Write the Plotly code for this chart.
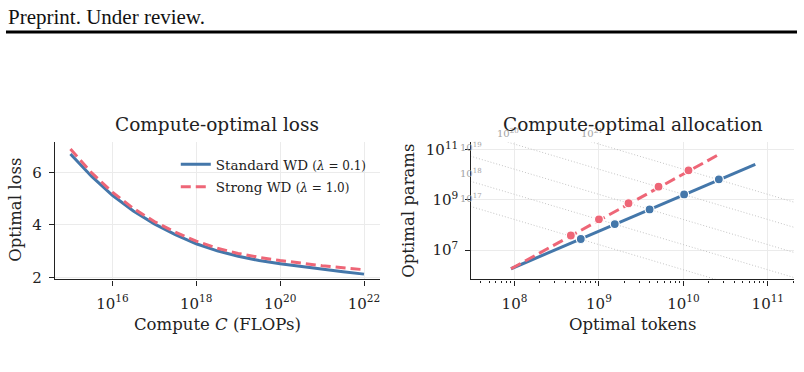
import plotly.graph_objects as go
import math

# ---------------- data ----------------
# Left panel: compute-optimal loss vs compute (log10 C)
compute_log = [15.0, 15.5, 16.0, 16.5, 17.0, 17.5, 18.0, 18.5, 19.0, 19.5, 20.0, 20.5, 21.0, 21.5, 22.0]
loss_standard = [6.71, 5.86, 5.13, 4.53, 4.04, 3.63, 3.28, 3.01, 2.80, 2.64, 2.52, 2.41, 2.31, 2.21, 2.12]
loss_strong = [6.90, 6.00, 5.25, 4.63, 4.13, 3.72, 3.38, 3.11, 2.91, 2.76, 2.64, 2.53, 2.44, 2.36, 2.29]

# Right panel: compute-optimal allocation
line_std_tokens = [9.1e7, 7.1e10]
line_std_params = [1.83e6, 2.63e10]
line_strong_tokens = [9.1e7, 2.57e10]
line_strong_params = [1.83e6, 6.17e10]

pts_std_tokens = [6.1e8, 1.54e9, 3.98e9, 1.02e10, 2.63e10]
pts_std_params = [2.8e7, 1.1e8, 4.2e8, 1.66e9, 6.6e9]
pts_strong_tokens = [4.65e8, 1.0e9, 2.24e9, 5.08e9, 1.15e10]
pts_strong_params = [3.85e7, 1.7e8, 7.4e8, 3.39e9, 1.51e10]

iso_compute = [1e17, 1e18, 1e19, 1e20, 1e21]
iso_labels = ["10<sup>17</sup>", "10<sup>18</sup>", "10<sup>19</sup>", "10<sup>20</sup>", "10<sup>21</sup>"]
iso_token_span = [3.0e7, 2.1e11]

left_xticks = [1e16, 1e18, 1e20, 1e22]
left_xticktext = ["10<sup>16</sup>", "10<sup>18</sup>", "10<sup>20</sup>", "10<sup>22</sup>"]
left_yticks = [2, 4, 6]
right_xticks = [1e8, 1e9, 1e10, 1e11]
right_xticktext = ["10<sup>8</sup>", "10<sup>9</sup>", "10<sup>10</sup>", "10<sup>11</sup>"]
right_yticks = [1e7, 1e9, 1e11]
right_yticktext = ["10<sup>7</sup>", "10<sup>9</sup>", "10<sup>11</sup>"]

# ---------------- style ----------------
BLUE = "#4477AA"
RED = "#EE6677"
FONT = "DejaVu Serif"
W, H = 804, 372
GRID = "#ebebeb"

compute = [10 ** v for v in compute_log]

fig = go.Figure()

# left panel
fig.add_trace(go.Scatter(x=compute, y=loss_standard, mode="lines",
                         line=dict(color=BLUE, width=3),
                         name="Standard WD <span style='font-size:12px'>(<i>λ</i> = 0.1)</span>",
                         legendgroup="a", xaxis="x", yaxis="y"))
fig.add_trace(go.Scatter(x=compute, y=loss_strong, mode="lines",
                         line=dict(color=RED, width=3, dash="10px,5px"),
                         name="Strong WD <span style='font-size:12px'>(<i>λ</i> = 1.0)</span>",
                         legendgroup="b", xaxis="x", yaxis="y"))

# right panel: isoflop lines
xr = [7.49, 11.31]
yr = [5.84, 11.3]
for c, lab in zip(iso_compute, iso_labels):
    ds = iso_token_span
    ns = [c / (6 * d) for d in ds]
    fig.add_trace(go.Scatter(x=ds, y=ns, mode="lines",
                             line=dict(color="#c4c4c4", width=1, dash="1px,2px"),
                             showlegend=False, hoverinfo="skip", xaxis="x2", yaxis="y2"))
    ld = max(xr[0], math.log10(c / 6) - yr[1])
    ln = math.log10(c / 6) - ld
    fig.add_annotation(x=ld, y=ln, xref="x2", yref="y2", text=lab, showarrow=False,
                       xanchor="center", yanchor="bottom", yshift=1,
                       font=dict(family=FONT, size=10, color="#a4a4a4"))

fig.add_trace(go.Scatter(x=line_std_tokens, y=line_std_params, mode="lines",
                         line=dict(color=BLUE, width=3), showlegend=False,
                         xaxis="x2", yaxis="y2"))
fig.add_trace(go.Scatter(x=line_strong_tokens, y=line_strong_params, mode="lines",
                         line=dict(color=RED, width=3, dash="11px,5px"), showlegend=False,
                         xaxis="x2", yaxis="y2"))
fig.add_trace(go.Scatter(x=pts_std_tokens, y=pts_std_params, mode="markers",
                         marker=dict(color=BLUE, size=9, line=dict(color="white", width=1.2)),
                         showlegend=False, xaxis="x2", yaxis="y2"))
fig.add_trace(go.Scatter(x=pts_strong_tokens, y=pts_strong_params, mode="markers",
                         marker=dict(color=RED, size=9, line=dict(color="white", width=1.2)),
                         showlegend=False, xaxis="x2", yaxis="y2"))

ydom = [(H - 284) / H, (H - 143) / H]
axis_common = dict(showline=True, linecolor="#222", linewidth=1.3, ticks="outside",
                   ticklen=5, tickwidth=1.1, tickcolor="#222", showgrid=True,
                   gridcolor=GRID, gridwidth=1, zeroline=False, mirror=False,
                   tickfont=dict(family=FONT, size=15, color="#222"))

minor_vals = [m * 10 ** e for e in range(7, 12) for m in range(2, 10)]

fig.update_layout(
    width=W, height=H, margin=dict(l=0, r=0, t=0, b=0),
    paper_bgcolor="white", plot_bgcolor="white",
    font=dict(family=FONT, color="#222"),
    xaxis=dict(axis_common, type="log", domain=[55 / W, 380 / W], range=[14.63, 22.37],
               tickmode="array", tickvals=left_xticks, ticktext=left_xticktext, anchor="y",
               ticklabelstandoff=5),
    yaxis=dict(axis_common, domain=ydom, range=[1.92, 7.16], tickmode="array",
               tickvals=left_yticks, anchor="x", ticklabelstandoff=4),
    xaxis2=dict(axis_common, type="log", domain=[472 / W, 795 / W], range=xr,
                tickmode="array", tickvals=right_xticks, ticktext=right_xticktext, anchor="y2",
                ticklabelstandoff=5,
                minor=dict(tickmode="array", tickvals=minor_vals, ticks="outside", ticklen=2.5,
                           tickwidth=1, tickcolor="#222", showgrid=False)),
    yaxis2=dict(axis_common, type="log", domain=ydom, range=yr, tickmode="array",
                tickvals=right_yticks, ticktext=right_yticktext, anchor="x2",
                ticklabelstandoff=4),
    legend=dict(x=176 / W, y=(H - 150) / H, xanchor="left", yanchor="top",
                bgcolor="rgba(0,0,0,0)", font=dict(family=FONT, size=13.5, color="#222"),
                tracegroupgap=2, traceorder="grouped"),
    showlegend=True,
)

ann = [
    dict(text="Preprint. Under review.", x=6 / W, y=(H - 14) / H, xanchor="left", yanchor="middle",
         font=dict(family="Liberation Serif", size=21, color="#111")),
    dict(text="Compute-optimal loss", x=217.5 / W, y=(H - 125) / H, font=dict(family=FONT, size=18.5)),
    dict(text="Compute-optimal allocation", x=633.5 / W, y=(H - 125) / H, font=dict(family=FONT, size=18.5)),
    dict(text="Compute <i>C</i> (FLOPs)", x=217.5 / W, y=(H - 330) / H, font=dict(family=FONT, size=16.5)),
    dict(text="Optimal tokens", x=633.5 / W, y=(H - 330) / H, font=dict(family=FONT, size=16.5)),
    dict(text="Optimal loss", x=15.5 / W, y=(H - 212) / H, textangle=-90, font=dict(family=FONT, size=16.5)),
    dict(text="Optimal params", x=409 / W, y=(H - 213) / H, textangle=-90, font=dict(family=FONT, size=16.5)),
]
for a in ann:
    a.setdefault("xanchor", "center")
    a.setdefault("yanchor", "middle")
    fig.add_annotation(xref="paper", yref="paper", showarrow=False, **a)

fig.add_shape(type="line", xref="paper", yref="paper", x0=6 / W, x1=798 / W,
              y0=(H - 29.7) / H, y1=(H - 29.7) / H, line=dict(color="black", width=3))

fig.write_html("out.html")
